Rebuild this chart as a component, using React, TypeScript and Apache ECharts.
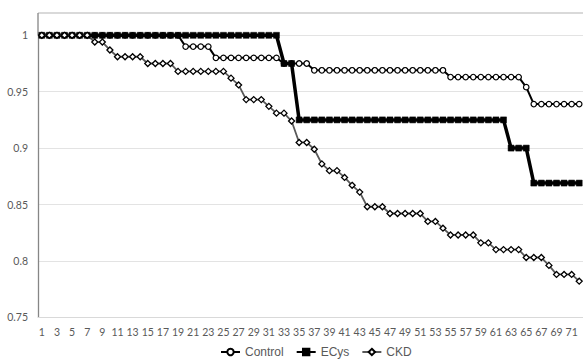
import React, { useEffect, useRef } from "react";
import * as echarts from "echarts";

const categories: string[] = [
  "1","2","3","4","5","6","7","8","9","10","11","12","13","14","15","16","17","18",
  "19","20","21","22","23","24","25","26","27","28","29","30","31","32","33","34","35","36",
  "37","38","39","40","41","42","43","44","45","46","47","48","49","50","51","52","53","54",
  "55","56","57","58","59","60","61","62","63","64","65","66","67","68","69","70","71","72",
];

const controlValues: number[] = [
  1, 1, 1, 1, 1, 1, 1, 1, 1, 1, 1, 1, 1, 1, 1, 1, 1, 1, 1,
  0.99, 0.99, 0.99, 0.99,
  0.98, 0.98, 0.98, 0.98, 0.98, 0.98, 0.98, 0.98, 0.98,
  0.975, 0.975, 0.975, 0.975,
  0.969, 0.969, 0.969, 0.969, 0.969, 0.969, 0.969, 0.969, 0.969,
  0.969, 0.969, 0.969, 0.969, 0.969, 0.969, 0.969, 0.969, 0.969,
  0.963, 0.963, 0.963, 0.963, 0.963, 0.963, 0.963, 0.963, 0.963, 0.963,
  0.954,
  0.939, 0.939, 0.939, 0.939, 0.939, 0.939, 0.939,
];

const ecysValues: number[] = [
  1, 1, 1, 1, 1, 1, 1, 1, 1, 1, 1, 1, 1, 1, 1, 1,
  1, 1, 1, 1, 1, 1, 1, 1, 1, 1, 1, 1, 1, 1, 1, 1,
  0.975, 0.975,
  0.925, 0.925, 0.925, 0.925, 0.925, 0.925, 0.925, 0.925, 0.925, 0.925, 0.925, 0.925, 0.925, 0.925,
  0.925, 0.925, 0.925, 0.925, 0.925, 0.925, 0.925, 0.925, 0.925, 0.925, 0.925, 0.925, 0.925, 0.925,
  0.9, 0.9, 0.9,
  0.869, 0.869, 0.869, 0.869, 0.869, 0.869, 0.869,
];

const ckdValues: number[] = [
  1, 1, 1, 1, 1, 1, 1,
  0.994, 0.994,
  0.987,
  0.981, 0.981, 0.981, 0.981,
  0.975, 0.975, 0.975, 0.975,
  0.968, 0.968, 0.968, 0.968, 0.968, 0.968, 0.968,
  0.962,
  0.956,
  0.943, 0.943, 0.943,
  0.937,
  0.931, 0.931,
  0.924,
  0.905, 0.905,
  0.899,
  0.886,
  0.88, 0.88,
  0.874,
  0.867,
  0.861,
  0.848, 0.848, 0.848,
  0.842, 0.842, 0.842, 0.842, 0.842,
  0.835, 0.835,
  0.829,
  0.823, 0.823, 0.823, 0.823,
  0.816, 0.816,
  0.81, 0.81, 0.81, 0.81,
  0.803, 0.803, 0.803,
  0.796,
  0.788, 0.788, 0.788,
  0.782,
];

const seriesNames: string[] = ["Control", "ECys", "CKD"];

export default function App() {
  const ref = useRef<HTMLDivElement>(null);

  useEffect(() => {
    if (!ref.current) return;
    const chart = echarts.init(ref.current, null, { renderer: "svg" });
    const gridLeft = 38;
    const gridTop = 35.3;
    const gridHeight = 282;
    const gridWidth = 550.3;
    chart.setOption({
      animation: false,
      backgroundColor: "#ffffff",
      grid: { left: gridLeft, top: gridTop, width: gridWidth, height: gridHeight, containLabel: false },
      graphic: [
        {
          type: "line",
          shape: { x1: gridLeft, y1: 13, x2: 600, y2: 13 },
          style: { stroke: "#b3b3b3", lineWidth: 1 },
          silent: true,
        },
        {
          type: "line",
          shape: { x1: gridLeft, y1: 13, x2: gridLeft, y2: gridTop },
          style: { stroke: "#868686", lineWidth: 1.3 },
          silent: true,
        },
      ],
      legend: {
        data: seriesNames,
        left: 220,
        top: 346,
        padding: 0,
        itemWidth: 19,
        itemHeight: 8,
        itemGap: 12,
        textStyle: { fontFamily: "Liberation Sans", fontSize: 12, color: "#595959" },
      },
      xAxis: {
        type: "category",
        data: categories,
        boundaryGap: true,
        axisLine: { show: true, lineStyle: { color: "#d9d9d9", width: 1 } },
        axisTick: { show: false },
        axisLabel: {
          interval: 1,
          margin: 9,
          fontFamily: "Lato",
          fontSize: 10.5,
          color: "#595959",
        },
        splitLine: { show: false },
      },
      yAxis: {
        type: "value",
        min: 0.75,
        max: 1,
        interval: 0.05,
        axisLine: { show: true, lineStyle: { color: "#868686", width: 1.3 } },
        axisTick: { show: false },
        axisLabel: {
          margin: 10,
          fontFamily: "Lato",
          fontSize: 10.5,
          color: "#595959",
          formatter: (v: number) => String(Math.round(v * 100) / 100),
        },
        splitLine: { show: true, lineStyle: { color: "#e3e3e3", width: 1 } },
      },
      series: [
        {
          name: "Control",
          type: "line",
          data: controlValues,
          symbol: "circle",
          symbolSize: 5.5,
          showAllSymbol: true,
          clip: false,
          lineStyle: { color: "#000000", width: 2 },
          itemStyle: { color: "#ffffff", borderColor: "#000000", borderWidth: 1.2 },
          emphasis: { disabled: true },
        },
        {
          name: "ECys",
          type: "line",
          data: ecysValues,
          symbol: "rect",
          symbolSize: 6,
          showAllSymbol: true,
          clip: false,
          lineStyle: { color: "#000000", width: 3.5 },
          itemStyle: { color: "#000000", borderColor: "#000000", borderWidth: 0.5 },
          emphasis: { disabled: true },
        },
        {
          name: "CKD",
          type: "line",
          data: ckdValues,
          symbol: "diamond",
          symbolSize: 6,
          showAllSymbol: true,
          clip: false,
          lineStyle: { color: "#595959", width: 1.8 },
          itemStyle: { color: "#ffffff", borderColor: "#000000", borderWidth: 1.3 },
          emphasis: { disabled: true },
        },
      ],
    });
    return () => chart.dispose();
  }, []);

  return (
    <div
      ref={ref}
      style={{ position: "absolute", left: 0, top: 0, width: 583, height: 359, background: "#fff" }}
    />
  );
}
